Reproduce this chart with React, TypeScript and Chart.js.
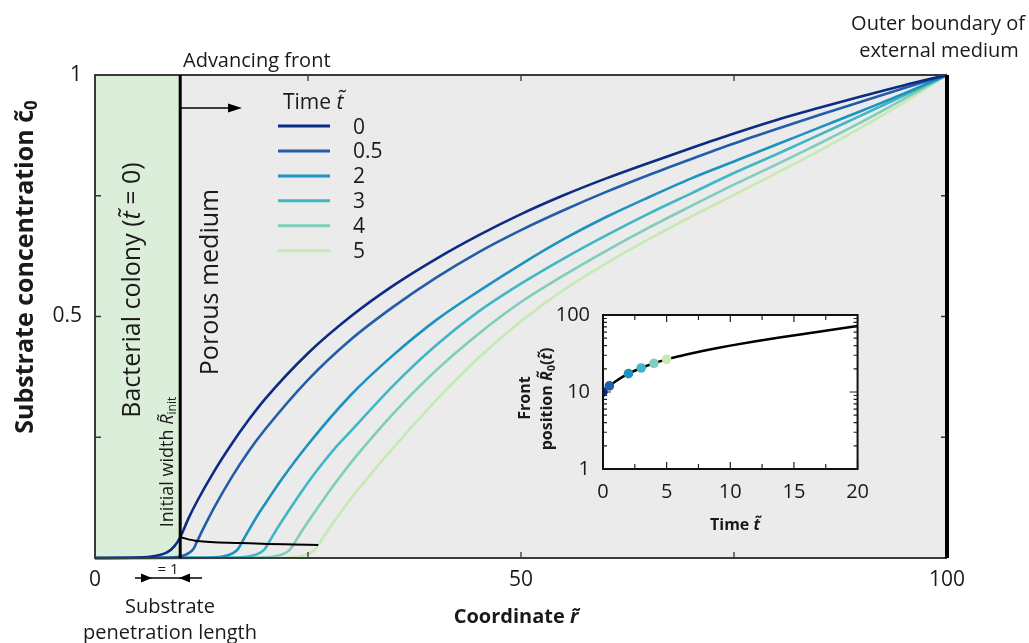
import React, { useEffect, useRef } from 'react';
import { Chart, registerables } from 'chart.js';

Chart.register(...registerables);

const FONT = '"Open Sans", "Noto Sans", sans-serif';

// ---------- data ----------
const R_INIT = 10;
const R_OUTER = 100;
const TIME_LABELS = ['0', '0.5', '2', '3', '4', '5'];
const COLORS = ['#0c2c84', '#225ea8', '#1d91c0', '#41b6c4', '#7fcdbb', '#c7e9b4'];

const R_T0 = [0, 5, 7, 8.5, 9.3, 10, 11, 12, 14, 16, 18, 20, 25, 30, 35, 40, 45, 50, 55, 60, 65, 70, 75, 80, 85, 90, 95, 100];
const C_T0 = [0, 0.001, 0.004, 0.012, 0.024, 0.043, 0.083, 0.118, 0.18, 0.235, 0.285, 0.33, 0.424, 0.5, 0.564, 0.619, 0.668, 0.712, 0.751, 0.786, 0.818, 0.849, 0.879, 0.907, 0.932, 0.956, 0.979, 1];

const R_T05 = [0, 8, 10, 11, 11.6, 12, 13, 14, 16, 18, 20, 25, 30, 35, 40, 45, 50, 55, 60, 65, 70, 75, 80, 85, 90, 95, 100];
const C_T05 = [0, 0.0005, 0.003, 0.01, 0.02, 0.035, 0.071, 0.105, 0.166, 0.22, 0.267, 0.369, 0.452, 0.52, 0.58, 0.633, 0.679, 0.72, 0.758, 0.793, 0.826, 0.858, 0.888, 0.917, 0.945, 0.973, 1];

const R_T2 = [0, 13, 15, 16.2, 16.8, 17.2, 18, 19, 20, 22, 25, 30, 35, 40, 45, 50, 55, 60, 65, 70, 75, 80, 85, 90, 95, 100];
const C_T2 = [0, 0.0005, 0.003, 0.01, 0.019, 0.031, 0.056, 0.086, 0.113, 0.165, 0.235, 0.337, 0.42, 0.492, 0.552, 0.608, 0.66, 0.706, 0.747, 0.786, 0.821, 0.856, 0.891, 0.926, 0.962, 1];

const R_T3 = [0, 16, 18, 19.3, 19.9, 20.3, 21, 22, 24, 26, 28, 30, 35, 40, 45, 50, 55, 60, 65, 70, 75, 80, 85, 90, 95, 100];
const C_T3 = [0, 0.0005, 0.003, 0.01, 0.018, 0.029, 0.05, 0.078, 0.131, 0.18, 0.224, 0.262, 0.357, 0.44, 0.51, 0.568, 0.62, 0.668, 0.713, 0.755, 0.797, 0.836, 0.876, 0.917, 0.958, 1];

const R_T4 = [0, 19, 21, 22.3, 22.9, 23.3, 24, 25, 27, 29, 31, 35, 40, 45, 50, 55, 60, 65, 70, 75, 80, 85, 90, 95, 100];
const C_T4 = [0, 0.0005, 0.003, 0.01, 0.018, 0.028, 0.048, 0.075, 0.126, 0.174, 0.218, 0.299, 0.388, 0.464, 0.53, 0.585, 0.636, 0.684, 0.729, 0.773, 0.815, 0.858, 0.903, 0.951, 1];

const R_T5 = [0, 22, 24, 25.2, 25.8, 26.2, 27, 28, 30, 32, 35, 40, 45, 50, 55, 60, 65, 70, 75, 80, 85, 90, 95, 100];
const C_T5 = [0, 0.0005, 0.003, 0.01, 0.017, 0.027, 0.048, 0.074, 0.122, 0.166, 0.228, 0.326, 0.414, 0.49, 0.555, 0.61, 0.66, 0.707, 0.752, 0.797, 0.843, 0.892, 0.944, 1];

const FRONT_R = [10, 12, 17.2, 20.3, 23.3, 26.2];
const FRONT_C = [0.043, 0.035, 0.031, 0.029, 0.028, 0.027];

const X_TICKS = [0, 50, 100];
const X_MINOR = [25, 50, 75];
const Y_TICKS = [0.25, 0.5, 0.75, 1];
const Y_LABELED = [0.5, 1];
const Y_MINOR = [0.25, 0.5, 0.75];

// inset
const INSET_T = [0, 0.5, 1, 1.5, 2, 3, 4, 5, 6, 7, 8, 9, 10, 12, 14, 16, 18, 20];
const INSET_R = [10, 12, 13.8, 15.6, 17.3, 20.5, 23.6, 26.5, 29.2, 31.9, 34.6, 37.3, 40, 45.5, 51.3, 57.5, 64.3, 72];
const DOT_T = [0, 0.5, 2, 3, 4, 5];
const DOT_R = [10, 12, 17.3, 20.5, 23.6, 26.5];
const INSET_X_TICKS = [0, 5, 10, 15, 20];
const INSET_X_MINOR = [2.5, 7.5, 12.5, 17.5];
const INSET_Y_TICKS = [1, 10, 100];
const INSET_Y_MINOR = [2, 3, 4, 5, 6, 7, 8, 9, 20, 30, 40, 50, 60, 70, 80, 90];

// ---------- styles ----------
const PLOT_BG = '#ebebeb';
const COLONY_BG = '#daeeda';
const TEXT = '#1a1a1a';

const SERIES_R = [R_T0, R_T05, R_T2, R_T3, R_T4, R_T5];
const SERIES_C = [C_T0, C_T05, C_T2, C_T3, C_T4, C_T5];

function f(size: number, weight = 'normal', style = 'normal') {
  return `${style} ${weight} ${size}px ${FONT}`;
}

type Run = { text: string; font: string; dy?: number };

function drawRuns(
  ctx: CanvasRenderingContext2D,
  runs: Run[],
  x: number,
  y: number,
  align: 'left' | 'center' | 'right',
  rotate = false
) {
  ctx.save();
  ctx.translate(x, y);
  if (rotate) ctx.rotate(-Math.PI / 2);
  ctx.textBaseline = 'alphabetic';
  ctx.textAlign = 'left';
  let total = 0;
  const widths = runs.map((r) => {
    ctx.font = r.font;
    const w = ctx.measureText(r.text).width;
    total += w;
    return w;
  });
  let cx = align === 'left' ? 0 : align === 'center' ? -total / 2 : -total;
  runs.forEach((r, i) => {
    ctx.font = r.font;
    ctx.fillText(r.text, cx, r.dy || 0);
    cx += widths[i];
  });
  ctx.restore();
}

function arrowHead(ctx: CanvasRenderingContext2D, tipX: number, tipY: number, dir: number, len: number, half: number) {
  ctx.beginPath();
  ctx.moveTo(tipX, tipY);
  ctx.lineTo(tipX - dir * len, tipY - half);
  ctx.lineTo(tipX - dir * len, tipY + half);
  ctx.closePath();
  ctx.fill();
}

const mainDecor = {
  id: 'mainDecor',
  beforeDatasetsDraw(chart: any) {
    const { ctx, chartArea: a, scales } = chart;
    const x = scales.x;
    ctx.save();
    ctx.fillStyle = PLOT_BG;
    ctx.fillRect(a.left, a.top, a.right - a.left, a.bottom - a.top);
    const xr = x.getPixelForValue(R_INIT);
    ctx.fillStyle = COLONY_BG;
    ctx.fillRect(a.left, a.top, xr - a.left, a.bottom - a.top);
    ctx.restore();
  },
  afterDatasetsDraw(chart: any) {
    const { ctx, chartArea: a, scales } = chart;
    const x = scales.x;
    const y = scales.y;
    ctx.save();
    ctx.strokeStyle = '#333';
    ctx.lineWidth = 1.3;
    ctx.beginPath();
    Y_MINOR.forEach((v) => {
      const py = y.getPixelForValue(v);
      ctx.moveTo(a.left, py);
      ctx.lineTo(a.left + 6, py);
      ctx.moveTo(a.right, py);
      ctx.lineTo(a.right - 6, py);
    });
    X_MINOR.forEach((v) => {
      const px = x.getPixelForValue(v);
      ctx.moveTo(px, a.bottom);
      ctx.lineTo(px, a.bottom - 6);
      ctx.moveTo(px, a.top);
      ctx.lineTo(px, a.top + 6);
    });
    ctx.stroke();
    ctx.strokeStyle = '#3a3a3a';
    ctx.lineWidth = 2;
    ctx.beginPath();
    ctx.moveTo(a.right, a.top);
    ctx.lineTo(a.left, a.top);
    ctx.lineTo(a.left, a.bottom);
    ctx.lineTo(a.right, a.bottom);
    ctx.stroke();
    const xo = x.getPixelForValue(R_OUTER);
    ctx.strokeStyle = '#000';
    ctx.lineWidth = 4;
    ctx.beginPath();
    ctx.moveTo(xo, y.getPixelForValue(1));
    ctx.lineTo(xo, y.getPixelForValue(0));
    ctx.stroke();
    const xr = x.getPixelForValue(R_INIT);
    ctx.lineWidth = 3;
    ctx.beginPath();
    ctx.moveTo(xr, y.getPixelForValue(1));
    ctx.lineTo(xr, y.getPixelForValue(0));
    ctx.stroke();
    ctx.restore();
  },
  afterDraw(chart: any) {
    const { ctx, scales } = chart;
    const x = scales.x;
    ctx.save();
    ctx.fillStyle = TEXT;
    ctx.strokeStyle = '#000';
    drawRuns(ctx, [{ text: 'Advancing front', font: f(20) }], 183, 67, 'left');
    drawRuns(ctx, [{ text: 'Outer boundary of', font: f(20) }], 938, 30, 'center');
    drawRuns(ctx, [{ text: 'external medium', font: f(20) }], 939, 57, 'center');

    const xr = x.getPixelForValue(R_INIT);
    ctx.lineWidth = 1.6;
    ctx.beginPath();
    ctx.moveTo(xr, 108);
    ctx.lineTo(232, 108);
    ctx.stroke();
    ctx.fillStyle = '#000';
    arrowHead(ctx, 242, 108, 1, 14, 4.5);

    ctx.fillStyle = TEXT;
    drawRuns(ctx, [{ text: 'Time ', font: f(21) }, { text: 't\u0303', font: f(21, 'normal', 'italic') }], 283, 109, 'left');
    TIME_LABELS.forEach((lab, i) => {
      const ly = 126 + i * 24.95;
      ctx.strokeStyle = COLORS[i];
      ctx.lineWidth = 3;
      ctx.beginPath();
      ctx.moveTo(278, ly);
      ctx.lineTo(330, ly);
      ctx.stroke();
      drawRuns(ctx, [{ text: lab, font: f(21) }], 353, ly + 7.5, 'left');
    });

    drawRuns(
      ctx,
      [
        { text: 'Bacterial colony (', font: f(25) },
        { text: 't\u0303', font: f(25, 'normal', 'italic') },
        { text: ' = 0)', font: f(25) },
      ],
      140,
      290,
      'center',
      true
    );
    drawRuns(ctx, [{ text: 'Porous medium', font: f(25) }], 218, 282, 'center', true);
    drawRuns(
      ctx,
      [
        { text: 'Initial width ', font: f(18) },
        { text: 'R\u0303', font: f(18, 'normal', 'italic') },
        { text: 'init', font: f(12), dy: 3 },
      ],
      173,
      462,
      'center',
      true
    );

    drawRuns(
      ctx,
      [
        { text: 'Substrate concentration ', font: f(25, 'bold') },
        { text: 'c\u0303', font: f(25, 'bold') },
        { text: '0', font: f(17, 'bold'), dy: 4 },
      ],
      33,
      267,
      'center',
      true
    );
    drawRuns(
      ctx,
      [
        { text: 'Coordinate ', font: f(20, 'bold') },
        { text: 'r\u0303', font: f(20, 'bold', 'italic') },
      ],
      516,
      623,
      'center'
    );

    drawRuns(ctx, [{ text: '= 1', font: f(15) }], 168, 574, 'center');
    ctx.strokeStyle = '#000';
    ctx.lineWidth = 1.5;
    ctx.beginPath();
    ctx.moveTo(135, 578);
    ctx.lineTo(202, 578);
    ctx.stroke();
    ctx.fillStyle = '#000';
    arrowHead(ctx, 152, 578, 1, 11, 4.5);
    arrowHead(ctx, 179, 578, -1, 11, 4.5);
    ctx.fillStyle = TEXT;
    drawRuns(ctx, [{ text: 'Substrate', font: f(20) }], 170, 613, 'center');
    drawRuns(ctx, [{ text: 'penetration length', font: f(20) }], 170, 639, 'center');
    ctx.restore();
  },
};

const insetDecor = {
  id: 'insetDecor',
  beforeDatasetsDraw(chart: any) {
    const { ctx, chartArea: a } = chart;
    ctx.save();
    ctx.fillStyle = '#ffffff';
    ctx.fillRect(a.left, a.top, a.right - a.left, a.bottom - a.top);
    ctx.restore();
  },
  afterDatasetsDraw(chart: any) {
    const { ctx, chartArea: a, scales } = chart;
    const x = scales.x;
    const y = scales.y;
    ctx.save();
    ctx.strokeStyle = '#222';
    ctx.lineWidth = 1.2;
    ctx.beginPath();
    const xt = (vals: number[], len: number) =>
      vals.forEach((v) => {
        const px = x.getPixelForValue(v);
        ctx.moveTo(px, a.bottom);
        ctx.lineTo(px, a.bottom - len);
        ctx.moveTo(px, a.top);
        ctx.lineTo(px, a.top + len);
      });
    const yt = (vals: number[], len: number) =>
      vals.forEach((v) => {
        const py = y.getPixelForValue(v);
        ctx.moveTo(a.left, py);
        ctx.lineTo(a.left + len, py);
        ctx.moveTo(a.right, py);
        ctx.lineTo(a.right - len, py);
      });
    xt(INSET_X_TICKS, 7);
    xt(INSET_X_MINOR, 5);
    yt(INSET_Y_TICKS, 8);
    yt(INSET_Y_MINOR, 4);
    ctx.stroke();
    ctx.lineWidth = 2;
    ctx.strokeStyle = '#111';
    ctx.strokeRect(a.left, a.top, a.right - a.left, a.bottom - a.top);
    ctx.restore();
  },
  afterDraw(chart: any) {
    const { ctx } = chart;
    ctx.save();
    ctx.fillStyle = TEXT;
    drawRuns(ctx, [{ text: 'Front', font: f(16, 'bold') }], 50, 108, 'center', true);
    drawRuns(
      ctx,
      [
        { text: 'position ', font: f(16, 'bold') },
        { text: 'R\u0303', font: f(16, 'bold', 'italic') },
        { text: '0', font: f(11, 'bold'), dy: 3 },
        { text: '(', font: f(16, 'bold') },
        { text: 't\u0303', font: f(16, 'bold', 'italic') },
        { text: ')', font: f(16, 'bold') },
      ],
      72,
      109,
      'center',
      true
    );
    drawRuns(
      ctx,
      [
        { text: 'Time ', font: f(16, 'bold') },
        { text: 't\u0303', font: f(16, 'bold', 'italic') },
      ],
      255,
      240,
      'center'
    );
    ctx.restore();
  },
};

export default function App() {
  const mainRef = useRef<HTMLCanvasElement>(null);
  const insetRef = useRef<HTMLCanvasElement>(null);

  useEffect(() => {
    document.body.style.margin = '0';
    const lineSets = SERIES_R.map((rs, i) => ({
      type: 'line' as const,
      label: TIME_LABELS[i],
      data: rs.map((r, k) => ({ x: r, y: SERIES_C[i][k] })),
      borderColor: COLORS[i],
      borderWidth: 2.6,
      pointRadius: 0,
      cubicInterpolationMode: 'monotone' as const,
      fill: false,
      clip: 4,
    }));
    const frontSet = {
      type: 'line' as const,
      label: 'front',
      data: FRONT_R.map((r, k) => ({ x: r, y: FRONT_C[k] })),
      borderColor: '#000',
      borderWidth: 2,
      pointRadius: 0,
      cubicInterpolationMode: 'monotone' as const,
      fill: false,
    };

    const main = new Chart(mainRef.current!, {
      type: 'line',
      data: { datasets: [frontSet, ...lineSets] as any },
      plugins: [mainDecor],
      options: {
        responsive: false,
        animation: false,
        devicePixelRatio: 1,
        events: [],
        layout: { padding: { top: 75, right: 82, left: 0, bottom: 0 } },
        plugins: { legend: { display: false }, tooltip: { enabled: false } },
        scales: {
          x: {
            type: 'linear',
            min: 0,
            max: 100,
            grid: { display: false, drawTicks: false },
            border: { display: false },
            afterBuildTicks: (s: any) => {
              s.ticks = X_TICKS.map((v) => ({ value: v }));
            },
            afterFit: (s: any) => {
              s.height = 85;
            },
            ticks: {
              font: { family: FONT, size: 21 },
              color: TEXT,
              padding: 9,
              maxRotation: 0,
              autoSkip: false,
              callback: (v: any) => String(v),
            },
          },
          y: {
            type: 'linear',
            min: 0,
            max: 1,
            grid: { display: false, drawTicks: false },
            border: { display: false },
            afterBuildTicks: (s: any) => {
              s.ticks = Y_TICKS.map((v) => ({ value: v }));
            },
            afterFit: (s: any) => {
              s.width = 95;
            },
            ticks: {
              font: { family: FONT, size: 21 },
              color: TEXT,
              padding: 13,
              autoSkip: false,
              callback: (v: any) => (Y_LABELED.includes(Number(v)) ? String(v) : ''),
            },
          },
        },
      } as any,
    });

    const inset = new Chart(insetRef.current!, {
      type: 'line',
      data: {
        datasets: [
          {
            type: 'scatter',
            label: 'dots',
            data: DOT_T.map((t, k) => ({ x: t, y: DOT_R[k] })),
            pointRadius: 4.8,
            pointBackgroundColor: COLORS,
            pointBorderWidth: 0,
            showLine: false,
          },
          {
            type: 'line',
            label: 'front position',
            data: INSET_T.map((t, k) => ({ x: t, y: INSET_R[k] })),
            borderColor: '#000',
            borderWidth: 2.5,
            pointRadius: 0,
            cubicInterpolationMode: 'monotone',
            fill: false,
          },
        ] as any,
      },
      plugins: [insetDecor],
      options: {
        responsive: false,
        animation: false,
        devicePixelRatio: 1,
        events: [],
        layout: { padding: { top: 23, right: 17, left: 0, bottom: 0 } },
        plugins: { legend: { display: false }, tooltip: { enabled: false } },
        scales: {
          x: {
            type: 'linear',
            min: 0,
            max: 20,
            grid: { display: false, drawTicks: false },
            border: { display: false },
            afterBuildTicks: (s: any) => {
              s.ticks = INSET_X_TICKS.map((v) => ({ value: v }));
            },
            afterFit: (s: any) => {
              s.height = 71;
            },
            ticks: {
              font: { family: FONT, size: 20 },
              color: TEXT,
              padding: 11,
              maxRotation: 0,
              autoSkip: false,
              callback: (v: any) => String(v),
            },
          },
          y: {
            type: 'logarithmic',
            min: 1,
            max: 100,
            grid: { display: false, drawTicks: false },
            border: { display: false },
            afterBuildTicks: (s: any) => {
              s.ticks = INSET_Y_TICKS.map((v) => ({ value: v }));
            },
            afterFit: (s: any) => {
              s.width = 123;
            },
            ticks: {
              font: { family: FONT, size: 20 },
              color: TEXT,
              padding: 13,
              autoSkip: false,
              callback: (v: any) => String(v),
            },
          },
        },
      } as any,
    });

    return () => {
      main.destroy();
      inset.destroy();
    };
  }, []);

  return (
    <div style={{ position: 'fixed', left: 0, top: 0, width: 1029, height: 643, background: '#fff' }}>
      <canvas ref={mainRef} width={1029} height={643} style={{ position: 'absolute', left: 0, top: 0 }} />
      <canvas ref={insetRef} width={400} height={250} style={{ position: 'absolute', left: 480, top: 290 }} />
    </div>
  );
}
